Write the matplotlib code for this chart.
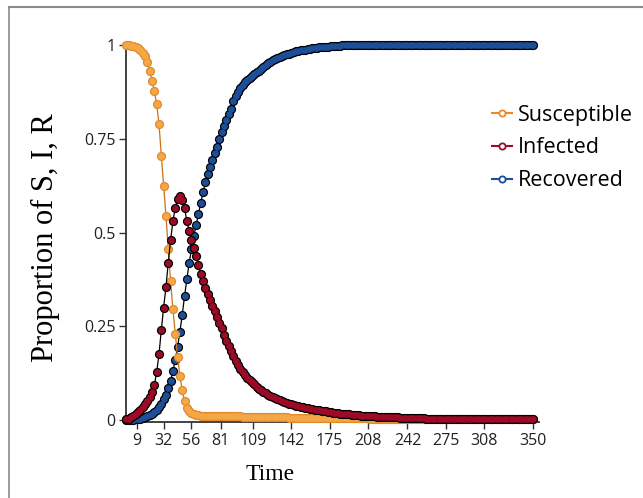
import numpy as np
import matplotlib.pyplot as plt
from matplotlib.lines import Line2D

# time grid (every 2 time units) and proportions
t = np.arange(0, 351, 2)

susceptible = [
    1.000, 0.999, 0.998, 0.997, 0.995, 0.992, 0.987, 0.980, 0.970, 0.955,
    0.932, 0.905, 0.878, 0.842, 0.790, 0.705, 0.625, 0.545, 0.455, 0.370,
    0.295, 0.230, 0.168, 0.118, 0.080, 0.050, 0.032, 0.024, 0.019, 0.016,
    0.014, 0.013, 0.012, 0.012, 0.011, 0.011, 0.011, 0.011, 0.010, 0.010,
    0.010, 0.010, 0.010, 0.010, 0.010, 0.010, 0.010, 0.010, 0.010, 0.010,
    0.009, 0.009, 0.009, 0.009, 0.009, 0.009, 0.009, 0.009, 0.009, 0.009,
    0.008, 0.008, 0.008, 0.008, 0.008, 0.007, 0.007, 0.007, 0.007, 0.007,
    0.006, 0.006, 0.006, 0.006, 0.006, 0.006, 0.006, 0.006, 0.006, 0.006,
    0.006, 0.006, 0.006, 0.006, 0.006, 0.005, 0.005, 0.005, 0.005, 0.005,
    0.005, 0.005, 0.005, 0.005, 0.005, 0.005, 0.005, 0.005, 0.005, 0.005,
    0.005, 0.005, 0.005, 0.005, 0.005, 0.004, 0.004, 0.004, 0.004, 0.004,
    0.004, 0.004, 0.004, 0.004, 0.004, 0.004, 0.004, 0.004, 0.004, 0.004,
    0.004, 0.004, 0.004, 0.004, 0.004, 0.003, 0.003, 0.003, 0.003, 0.003,
    0.003, 0.003, 0.003, 0.003, 0.003, 0.003, 0.003, 0.003, 0.003, 0.003,
    0.003, 0.003, 0.003, 0.003, 0.003, 0.003, 0.003, 0.003, 0.003, 0.003,
    0.002, 0.002, 0.002, 0.002, 0.002, 0.002, 0.002, 0.002, 0.002, 0.002,
    0.002, 0.002, 0.002, 0.002, 0.002, 0.002, 0.002, 0.002, 0.002, 0.002,
    0.002, 0.002, 0.002, 0.002, 0.002, 0.002,
]

infected = [
    0.002, 0.004, 0.007, 0.011, 0.016, 0.021, 0.027, 0.034, 0.042, 0.052,
    0.062, 0.076, 0.093, 0.128, 0.175, 0.240, 0.300, 0.355, 0.420, 0.480,
    0.530, 0.565, 0.590, 0.597, 0.588, 0.565, 0.530, 0.503, 0.480, 0.460,
    0.437, 0.413, 0.390, 0.370, 0.352, 0.336, 0.320, 0.305, 0.290, 0.275,
    0.260, 0.245, 0.228, 0.212, 0.197, 0.183, 0.170, 0.158, 0.147, 0.137,
    0.128, 0.120, 0.113, 0.107, 0.101, 0.095, 0.089, 0.084, 0.079, 0.075,
    0.071, 0.067, 0.064, 0.061, 0.058, 0.055, 0.053, 0.050, 0.048, 0.046,
    0.044, 0.042, 0.040, 0.038, 0.037, 0.035, 0.034, 0.033, 0.031, 0.030,
    0.029, 0.028, 0.027, 0.026, 0.025, 0.024, 0.023, 0.022, 0.021, 0.020,
    0.019, 0.018, 0.017, 0.017, 0.016, 0.015, 0.015, 0.014, 0.014, 0.013,
    0.013, 0.012, 0.012, 0.011, 0.011, 0.010, 0.010, 0.010, 0.009, 0.009,
    0.009, 0.008, 0.008, 0.008, 0.007, 0.007, 0.007, 0.007, 0.006, 0.006,
    0.006, 0.006, 0.006, 0.005, 0.005, 0.005, 0.005, 0.005, 0.005, 0.004,
    0.004, 0.004, 0.004, 0.004, 0.004, 0.004, 0.004, 0.004, 0.004, 0.004,
    0.004, 0.004, 0.003, 0.003, 0.003, 0.003, 0.003, 0.003, 0.003, 0.003,
    0.003, 0.003, 0.003, 0.003, 0.003, 0.003, 0.003, 0.003, 0.003, 0.003,
    0.003, 0.003, 0.003, 0.002, 0.002, 0.002, 0.002, 0.002, 0.002, 0.002,
    0.002, 0.002, 0.002, 0.002, 0.002, 0.002,
]

recovered = [
    0.000, 0.000, 0.001, 0.001, 0.002, 0.003, 0.004, 0.005, 0.007, 0.010,
    0.013, 0.017, 0.021, 0.027, 0.034, 0.043, 0.055, 0.068, 0.085, 0.105,
    0.130, 0.160, 0.195, 0.235, 0.280, 0.330, 0.375, 0.420, 0.455, 0.490,
    0.520, 0.550, 0.580, 0.608, 0.634, 0.656, 0.676, 0.694, 0.711, 0.727,
    0.750, 0.767, 0.783, 0.800, 0.815, 0.830, 0.850, 0.864, 0.875, 0.885,
    0.894, 0.901, 0.907, 0.912, 0.917, 0.922, 0.927, 0.932, 0.937, 0.942,
    0.947, 0.951, 0.955, 0.959, 0.962, 0.965, 0.968, 0.971, 0.973, 0.975,
    0.977, 0.979, 0.981, 0.983, 0.984, 0.986, 0.987, 0.988, 0.989, 0.990,
    0.991, 0.992, 0.993, 0.994, 0.995, 0.995, 0.996, 0.996, 0.997, 0.997,
    0.998, 0.998, 0.998, 0.999, 0.999, 0.999, 0.999, 1.000, 1.000, 1.000,
    1.000, 1.000, 1.000, 1.000, 1.000, 1.000, 1.000, 1.000, 1.000, 1.000,
    1.000, 1.000, 1.000, 1.000, 1.000, 1.000, 1.000, 1.000, 1.000, 1.000,
    1.000, 1.000, 1.000, 1.000, 1.000, 1.000, 1.000, 1.000, 1.000, 1.000,
    1.000, 1.000, 1.000, 1.000, 1.000, 1.000, 1.000, 1.000, 1.000, 1.000,
    1.000, 1.000, 1.000, 1.000, 1.000, 1.000, 1.000, 1.000, 1.000, 1.000,
    1.000, 1.000, 1.000, 1.000, 1.000, 1.000, 1.000, 1.000, 1.000, 1.000,
    1.000, 1.000, 1.000, 1.000, 1.000, 1.000, 1.000, 1.000, 1.000, 1.000,
    1.000, 1.000, 1.000, 1.000, 1.000, 1.000,
]

x_ticks = [9, 32, 56, 81, 109, 142, 175, 208, 242, 275, 308, 350]
y_ticks = [0, 0.25, 0.5, 0.75, 1]
y_tick_labels = ["0", "0.25", "0.5", "0.75", "1"]
labels = ["Susceptible", "Infected", "Recovered"]

c_s = "#f5a646"
c_i = "#9c0b26"
c_r = "#1c4f98"

fig = plt.figure(figsize=(6.43, 4.98), dpi=100)
ax = fig.add_axes([0.1967, 0.1528, 0.641, 0.7606])

ms = 5.6
mew = 1.0


def draw(y, face, edge, line, z):
    # connecting line, ringed markers, then plain faces on top so that
    # overlapping markers merge into one outlined band
    ax.plot(t, y, color=line, lw=0.9, zorder=z, clip_on=False)
    ax.plot(t, y, ls="none", marker="o", ms=ms, mfc=face, mec=edge, mew=mew,
            zorder=z + 0.1, clip_on=False)
    ax.plot(t, y, ls="none", marker="o", ms=ms - mew, mfc=face, mec="none",
            mew=0, zorder=z + 0.2, clip_on=False)


draw(recovered, c_r, "black", "black", 3)
draw(susceptible, c_s, "#e08a2a", "#c8731c", 4)
draw(infected, c_i, "black", "black", 5)

ax.set_xlim(0, 355)
ax.set_ylim(-0.005, 1.005)
ax.set_xticks(x_ticks)
ax.set_yticks(y_ticks)
ax.set_yticklabels(y_tick_labels)

for side in ["top", "right"]:
    ax.spines[side].set_visible(False)
for side in ["left", "bottom"]:
    ax.spines[side].set_color("#333333")
    ax.spines[side].set_linewidth(1.3)

ax.tick_params(length=5, width=1, color="#333333", pad=3, labelsize=11.5)
for lab in ax.get_xticklabels() + ax.get_yticklabels():
    lab.set_fontfamily("Open Sans")
    lab.set_color("#222222")

ax.set_xlabel("Time", family="Liberation Serif", fontsize=17)
ax.xaxis.set_label_coords(0.348, -0.111)
ax.set_ylabel("Proportion of S, I, R", family="Liberation Serif", fontsize=22)
ax.yaxis.set_label_coords(-0.161, 0.4855)

handles = [Line2D([], [], color=c, lw=1.5, marker="o", ms=4.5, mfc="white",
                  mec=c, mew=1.3) for c in ["#e8892a", c_i, c_r]]
fig.legend(handles, labels, loc="upper left",
           bbox_to_anchor=(492 / 643, 1 - 104.5 / 498),
           frameon=False, prop={"family": "Open Sans", "size": 15.5},
           handlelength=0.93, handletextpad=0.28, labelspacing=0.55,
           borderpad=0, borderaxespad=0)

# screenshot frame lines
fig.add_artist(Line2D([9 / 643, 1], [1 - 7 / 498, 1 - 7 / 498],
                      color="#8a8a8a", lw=1.5, transform=fig.transFigure))
fig.add_artist(Line2D([9 / 643, 9 / 643], [0, 1 - 7 / 498],
                      color="#8a8a8a", lw=1.2, transform=fig.transFigure))

fig.savefig("out.png", dpi=100)
